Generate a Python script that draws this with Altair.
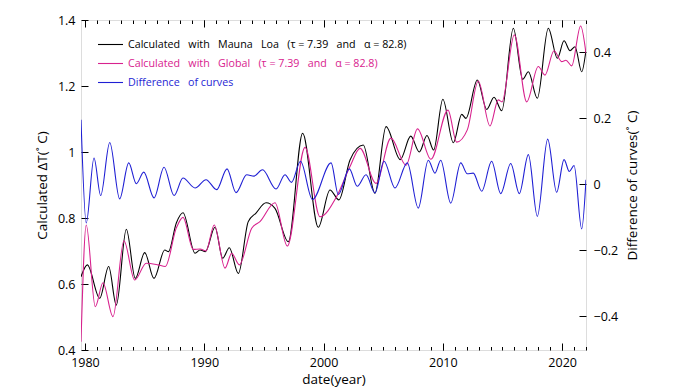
import altair as alt
import pandas as pd

# ---- data ----
ml_years = [1979.67, 1980.20, 1981.24, 1981.99, 1982.63, 1983.47, 1984.22, 1985.01, 1985.79, 1986.69,
            1987.0, 1987.66, 1988.22, 1989.23, 1989.65, 1990.1, 1990.9, 1991.55, 1992.1, 1992.86,
            1993.69, 1994.34, 1995.18, 1995.93, 1997.05, 1998.25, 1999.56, 2000.54, 2001.29, 2002.22,
            2003.33, 2004.31, 2005.24, 2006.43, 2007.31, 2008.03, 2008.67, 2009.23, 2010.0, 2010.88,
            2011.58, 2011.94, 2012.89, 2013.68, 2014.29, 2014.94, 2015.91, 2016.7, 2017.17, 2017.92,
            2018.84, 2019.6, 2020.16, 2020.66, 2021.08, 2021.64, 2022.0]
ml_vals = [0.622, 0.658, 0.557, 0.653, 0.536, 0.766, 0.617, 0.695, 0.617, 0.703,
           0.698, 0.785, 0.816, 0.693, 0.703, 0.698, 0.772, 0.678, 0.710, 0.632,
           0.789, 0.815, 0.846, 0.829, 0.728, 1.057, 0.772, 0.885, 0.855, 0.976,
           1.021, 0.875, 1.077, 0.977, 1.048, 1.000, 1.050, 1.006, 1.160, 1.028,
           1.114, 1.102, 1.218, 1.129, 1.166, 1.125, 1.375, 1.220, 1.243, 1.163,
           1.375, 1.284, 1.337, 1.307, 1.319, 1.243, 1.309]

gl_years = [1979.67, 1980.11, 1980.87, 1981.51, 1982.35, 1983.27, 1984.17, 1985.14, 1986.12, 1986.74,
            1987.66, 1988.22, 1989.08, 1989.65, 1990.15, 1990.84, 1991.74, 1992.3, 1992.94, 1993.98,
            1994.67, 1995.93, 1996.96, 1998.45, 1999.7, 2001.1, 2002.22, 2003.06, 2004.4, 2005.65,
            2006.91, 2007.88, 2009.0, 2010.43, 2011.16, 2012.05, 2012.97, 2013.95, 2014.65, 2014.96,
            2015.99, 2017.03, 2018.0, 2018.56, 2019.32, 2019.96, 2020.32, 2020.8, 2021.55, 2022.0]
gl_vals = [0.425, 0.779, 0.531, 0.604, 0.501, 0.731, 0.612, 0.663, 0.658, 0.653,
           0.770, 0.802, 0.705, 0.706, 0.700, 0.779, 0.648, 0.693, 0.658, 0.769,
           0.789, 0.846, 0.715, 1.014, 0.804, 0.865, 0.956, 1.011, 0.905, 1.042,
           0.960, 1.070, 0.978, 1.127, 1.030, 1.067, 1.215, 1.079, 1.158, 1.152,
           1.355, 1.152, 1.259, 1.233, 1.307, 1.274, 1.278, 1.261, 1.382, 1.299]

df_years = [1979.67, 1980.11, 1980.76, 1981.32, 1982.08, 1982.91, 1983.67, 1984.31, 1984.93, 1985.79,
            1986.63, 1987.47, 1988.22, 1989.23, 1990.15, 1991.04, 1991.91, 1992.66, 1993.56, 1994.17,
            1994.88, 1996.02, 1996.77, 1997.31, 1998.07, 1999.07, 2000.63, 2001.24, 2002.16, 2002.83,
            2003.56, 2004.31, 2005.07, 2005.99, 2007.02, 2007.94, 2008.78, 2009.34, 2009.82, 2010.66,
            2011.5, 2012.05, 2012.55, 2013.26, 2014.09, 2014.85, 2015.69, 2016.41, 2017.17, 2017.92,
            2018.79, 2019.54, 2020.16, 2020.6, 2021.0, 2021.64, 2022.0]
df_vals = [0.195, -0.118, 0.079, -0.035, 0.126, -0.045, 0.064, 0.001, 0.036, -0.042,
           0.051, -0.035, 0.018, -0.012, 0.013, -0.017, 0.046, -0.026, 0.028, 0.024,
           0.043, -0.015, 0.028, 0.005, 0.069, -0.047, 0.064, -0.032, 0.046, -0.007,
           0.028, -0.027, 0.069, -0.012, 0.064, -0.073, 0.072, 0.033, 0.072, -0.058,
           0.064, 0.031, 0.033, -0.022, 0.069, -0.029, 0.062, -0.029, 0.089, -0.098,
           0.136, -0.025, 0.074, 0.038, 0.056, -0.136, 0.013]

major_years = [1980, 1990, 2000, 2010, 2020]
minor_years = list(range(1980, 2023))
left_ticks = [0.4, 0.6, 0.8, 1.0, 1.2, 1.4]
right_ticks = [-0.4, -0.2, 0.0, 0.2, 0.4]

W = " \u00a0\u00a0"
lab_ml = f"Calculated{W}with{W}Mauna{W}Loa{W}(τ = 7.39{W}and{W}α = 82.8)"
lab_gl = f"Calculated{W}with{W}Global{W}(τ = 7.39{W}and{W}α = 82.8)"
lab_df = f"Difference{W}of curves"
labels = [lab_ml, lab_gl, lab_df]
colors = ["#000000", "#d8228e", "#1f1fd4"]

FONT = "Open Sans"

main_df = pd.DataFrame({
    "year": ml_years + gl_years,
    "value": ml_vals + gl_vals,
    "series": [lab_ml] * len(ml_years) + [lab_gl] * len(gl_years),
})
diff_df = pd.DataFrame({"year": df_years, "value": df_vals, "series": [lab_df] * len(df_years)})

xscale = alt.Scale(domain=[1979.67, 2022.0], nice=False, zero=False)
yl_scale = alt.Scale(domain=[0.4, 1.4], nice=False, zero=False)
yr_scale = alt.Scale(domain=[-0.503, 0.497], nice=False, zero=False)

legend = alt.Legend(
    title=None, orient="none", legendX=16, legendY=11, direction="vertical",
    symbolType="stroke", symbolSize=625, symbolStrokeWidth=1.1,
    labelFont=FONT, labelFontSize=10.7, labelOffset=4, rowPadding=-7, padding=0,
    labelLimit=500,
    labelColor=alt.ExprRef("scale('color', datum.value)"),
)
color = alt.Color("series:N", scale=alt.Scale(domain=labels, range=colors), legend=legend)

common_axis = dict(domain=False, tickColor="black", labelColor="black", titleColor="black",
                   labelFont=FONT, titleFont=FONT, labelFontSize=12.5, titleFontSize=13.5,
                   titleFontWeight="normal", grid=False)

x_bottom = alt.Axis(orient="bottom", values=major_years, format="d", tickSize=7, offset=-7,
                    labelPadding=6, title="date(year)", titlePadding=4, **common_axis)
x_top = alt.Axis(orient="top", values=major_years, tickSize=7, offset=-7, labels=False,
                 title=None, **common_axis)
x_bottom_minor = alt.Axis(orient="bottom", values=minor_years, tickSize=3.5, offset=-3.5,
                          labels=False, title=None, **common_axis)
x_top_minor = alt.Axis(orient="top", values=minor_years, tickSize=3.5, offset=-3.5,
                       labels=False, title=None, **common_axis)
y_left = alt.Axis(orient="left", values=left_ticks, format="~g", tickSize=7, offset=-7,
                  labelPadding=6, title="Calculated ΔT(˚ C)", titlePadding=8, **common_axis)
y_right = alt.Axis(orient="right", values=right_ticks, format="~g", tickSize=7, offset=-7,
                   labelPadding=7, title="Difference of curves(˚ C)", titlePadding=8,
                   titleAngle=270, titleBaseline="top", **common_axis)

main_layer = alt.Chart(main_df).mark_line(interpolate="monotone", strokeWidth=1.1, clip=True).encode(
    x=alt.X("year:Q", scale=xscale, axis=x_bottom),
    y=alt.Y("value:Q", scale=yl_scale, axis=y_left),
    color=color,
)
diff_layer = alt.Chart(diff_df).mark_line(interpolate="monotone", strokeWidth=1.1, clip=True).encode(
    x=alt.X("year:Q", scale=xscale, axis=x_top),
    y=alt.Y("value:Q", scale=yr_scale, axis=y_right),
    color=color,
)
minor_b = alt.Chart(diff_df).mark_line(opacity=0, clip=True).encode(
    x=alt.X("year:Q", scale=xscale, axis=x_bottom_minor),
    y=alt.Y("value:Q", scale=yr_scale, axis=None),
)
minor_t = alt.Chart(diff_df).mark_line(opacity=0, clip=True).encode(
    x=alt.X("year:Q", scale=xscale, axis=x_top_minor),
    y=alt.Y("value:Q", scale=yr_scale, axis=None),
)

chart = alt.layer(main_layer, diff_layer, minor_b, minor_t).resolve_scale(
    y="independent"
).resolve_axis(
    x="independent", y="independent"
).properties(
    width=505, height=330,
    autosize=alt.AutoSizeParams(type="none"),
    padding={"left": 73, "top": 12, "right": 82, "bottom": 40},
).configure_view(
    stroke="black", strokeWidth=1
).configure(background="white")

chart.save("out.html", embed_options={"renderer": "svg", "actions": False})
